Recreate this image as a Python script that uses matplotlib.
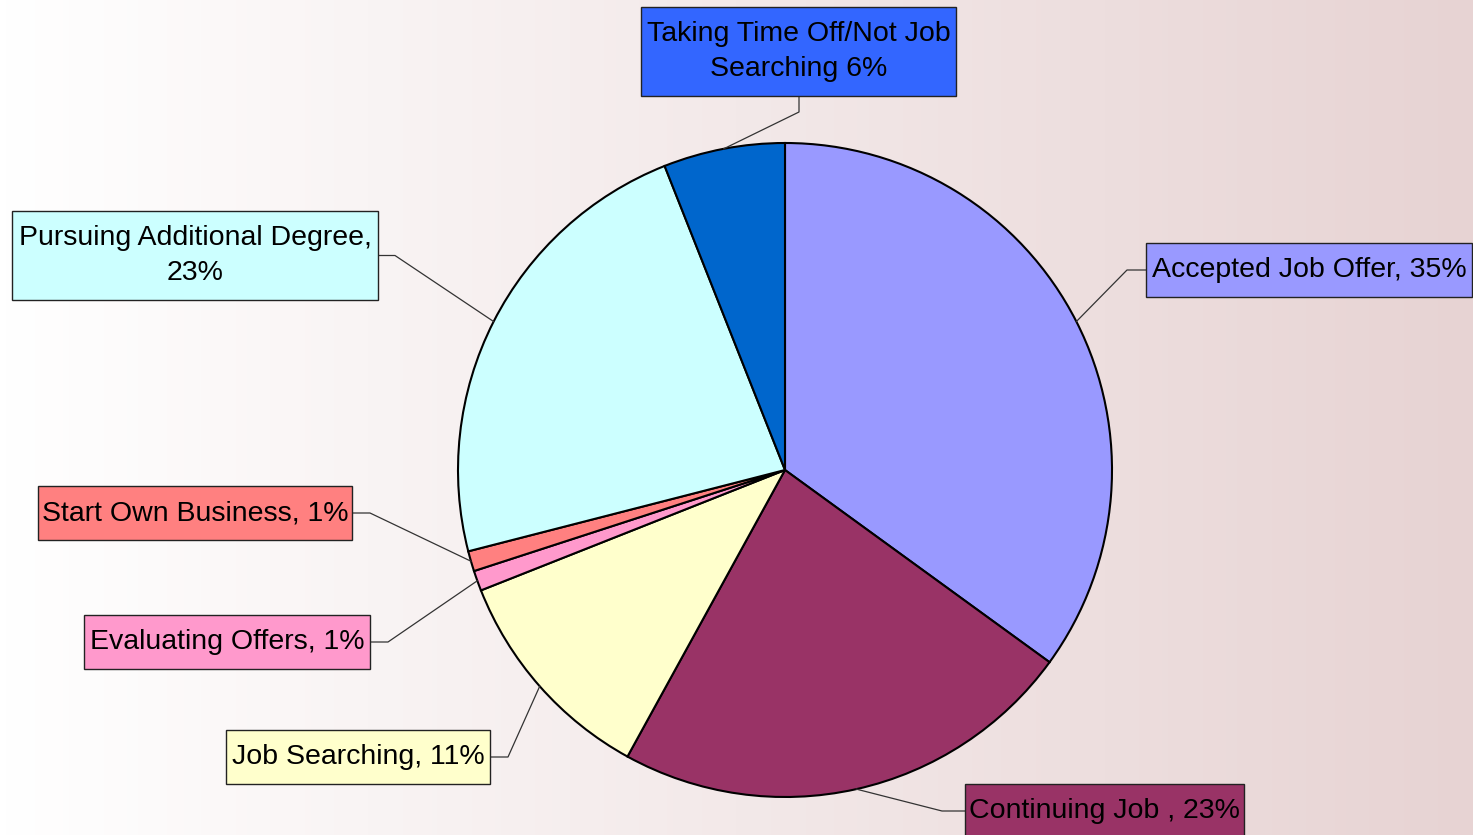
import numpy as np
import matplotlib.pyplot as plt
from matplotlib.patches import Rectangle
from matplotlib.colors import LinearSegmentedColormap

# 毕业生去向饼图
plt.rcParams['font.family'] = ['Liberation Sans', 'DejaVu Sans']

names = ["Accepted Job Offer", "Continuing Job ", "Job Searching", "Evaluating Offers",
         "Start Own Business", "Pursuing Additional Degree", "Taking Time Off/Not Job"]
shares = [35, 23, 11, 1, 1, 23, 6]
label_fmt = ["{}, {}%", "{}, {}%", "{}, {}%", "{}, {}%", "{}, {}%", "{},\n{}%", "{}\nSearching {}%"]
slice_colors = ["#9999FF", "#993366", "#FFFFCC", "#FF99CC", "#FF8080", "#CCFFFF", "#0066CC"]
box_colors = ["#9999FF", "#993366", "#FFFFCC", "#FF99CC", "#FF8080", "#CCFFFF", "#3366FF"]

W, H = 1473, 835
cx, cy, r = 785, 470, 327   # 饼图圆心和半径（像素，y向下）

# 标签框: 左, 上, 右, 下 ; 折线拐点x
boxes = [(1146, 243, 1472, 297), (965, 784, 1244, 838), (226, 730, 490, 784),
         (84, 615, 370, 669), (38, 486, 352, 540), (12, 211, 378, 300), (641, 7, 956, 96)]
elbow_x = [1127, 942, 508, 388, 370, 395, 799]

fig = plt.figure(figsize=(W / 100, H / 100), dpi=100)
ax = fig.add_axes([0, 0, 1, 1])

# 背景渐变 白 -> 浅粉
grad = LinearSegmentedColormap.from_list("bg", ["#FFFFFF", "#E7D3D3"])
ax.imshow(np.linspace(0, 1, 256).reshape(1, -1), cmap=grad, extent=[0, W, 0, H],
          aspect='auto', zorder=0)

ax.pie(shares, colors=slice_colors, startangle=90, counterclock=False,
       center=(cx, H - cy), radius=r,
       wedgeprops={"edgecolor": "black", "linewidth": 1.5, "zorder": 2})

# 每块的中间角度，引线从这里出发
ends = 90 - np.cumsum(shares) / sum(shares) * 360
starts = ends + np.array(shares) / sum(shares) * 360
mids = np.deg2rad((starts + ends) / 2)

for i in range(len(names)):
    x0, y0, x1, y1 = boxes[i]
    px = cx + r * np.cos(mids[i])
    py = cy - r * np.sin(mids[i])
    if i == 6:
        xs = [px, elbow_x[i], elbow_x[i]]
        ys = [py, 112, y1]
    else:
        bcy = (y0 + y1) / 2
        edge = x0 if (x0 + x1) / 2 > cx else x1
        xs = [px, elbow_x[i], edge]
        ys = [py, bcy, bcy]
    ax.plot(xs, [H - v for v in ys], color="#333333", linewidth=0.9, zorder=3)
    ax.add_patch(Rectangle((x0, H - y1), x1 - x0, y1 - y0, facecolor=box_colors[i],
                           edgecolor="#222222", linewidth=1.0, zorder=4))
    ax.text((x0 + x1) / 2, H - (y0 + y1) / 2, label_fmt[i].format(names[i], shares[i]),
            ha='center', va='center', fontsize=20.5, linespacing=1.45, zorder=5)

ax.set_xlim(0, W)
ax.set_ylim(0, H)
ax.set_aspect('auto')
ax.axis('off')
plt.savefig("out.png", dpi=100)
